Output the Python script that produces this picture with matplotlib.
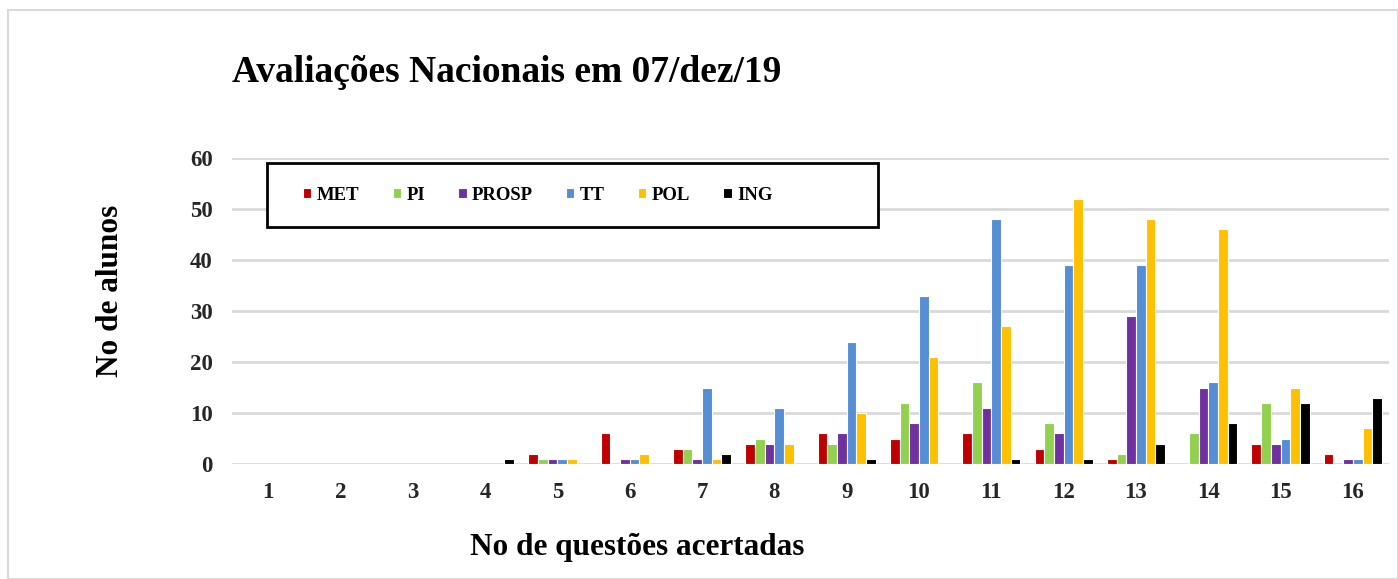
import numpy as np
import matplotlib.pyplot as plt
from matplotlib.patches import Rectangle

questoes = [str(i) for i in range(1, 17)]
series = ['MET', 'PI', 'PROSP', 'TT', 'POL', 'ING']
cores = ['#c00000', '#92d050', '#7030a0', '#558ed5', '#ffc000', '#000000']

met = [0, 0, 0, 0, 2, 6, 3, 4, 6, 5, 6, 3, 1, 0, 4, 2]
pi = [0, 0, 0, 0, 1, 0, 3, 5, 4, 12, 16, 8, 2, 6, 12, 0]
prosp = [0, 0, 0, 0, 1, 1, 1, 4, 6, 8, 11, 6, 29, 15, 4, 1]
tt = [0, 0, 0, 0, 1, 1, 15, 11, 24, 33, 48, 39, 39, 16, 5, 1]
pol = [0, 0, 0, 0, 1, 2, 1, 4, 10, 21, 27, 52, 48, 46, 15, 7]
ing = [0, 0, 0, 1, 0, 0, 2, 0, 1, 0, 1, 1, 4, 8, 12, 13]
valores = [met, pi, prosp, tt, pol, ing]

plt.rcParams['font.family'] = ['Liberation Serif', 'DejaVu Serif']
plt.rcParams['font.weight'] = 'bold'

W, H = 1398, 579
fig = plt.figure(figsize=(W / 100, H / 100), dpi=100)
ax = fig.add_axes([232 / W, 1 - 464 / H, (1389 - 232) / W, (464 - 158) / H])

x = np.arange(len(questoes))
largura = 0.134
for i, (nome, v) in enumerate(zip(series, valores)):
    pos = x + (i - 2.5) * largura
    ax.bar(pos, v, largura, color=cores[i], edgecolor='white', linewidth=0.8, label=nome, zorder=3)

ax.set_xlim(-0.5, len(questoes) - 0.5)
ax.set_ylim(0, 60)
ax.set_yticks(range(0, 61, 10))
ax.set_xticks(x)
ax.set_xticklabels(questoes)
ax.tick_params(length=0, labelsize=16.5, labelcolor='#262626')
ax.tick_params(axis='x', pad=13)
ax.tick_params(axis='y', pad=14)
ax.grid(axis='y', color='#d9d9d9', linewidth=2, zorder=0)
for s in ax.spines.values():
    s.set_visible(False)

fig.text(637 / W, 1 - 547 / H, 'No de questões acertadas', fontsize=22.5, fontweight='bold',
         ha='center', va='center')
fig.text(110 / W, 1 - 291 / H, 'No de alunos', fontsize=22.5, fontweight='bold',
         ha='center', va='center', rotation=90)

fig.text(232 / W, 1 - 72 / H, 'Avaliações Nacionais em 07/dez/19', fontsize=27,
         fontweight='bold', va='center', ha='left')

# caixa da legenda
caixa = Rectangle((267 / W, 1 - 227 / H), (878 - 267) / W, (227 - 163) / H, transform=fig.transFigure,
                  facecolor='white', edgecolor='black', linewidth=2, zorder=4)
ax.add_artist(caixa)
caixa.set_clip_on(False)

leg = fig.legend(ncol=6, loc='center left', bbox_to_anchor=(303 / W, 1 - 195 / H),
                 frameon=False, fontsize=13.5, handlelength=0.45, handleheight=0.45,
                 borderpad=0, borderaxespad=0, handletextpad=0.3, columnspacing=1.75)
leg.set_zorder(5)

fig.add_artist(Rectangle((8 / W, 0), 1 - 8 / W, 1 - 10 / H, transform=fig.transFigure,
                         fill=False, edgecolor='#d9d9d9', linewidth=1.5))

fig.savefig('out.png', dpi=100)
